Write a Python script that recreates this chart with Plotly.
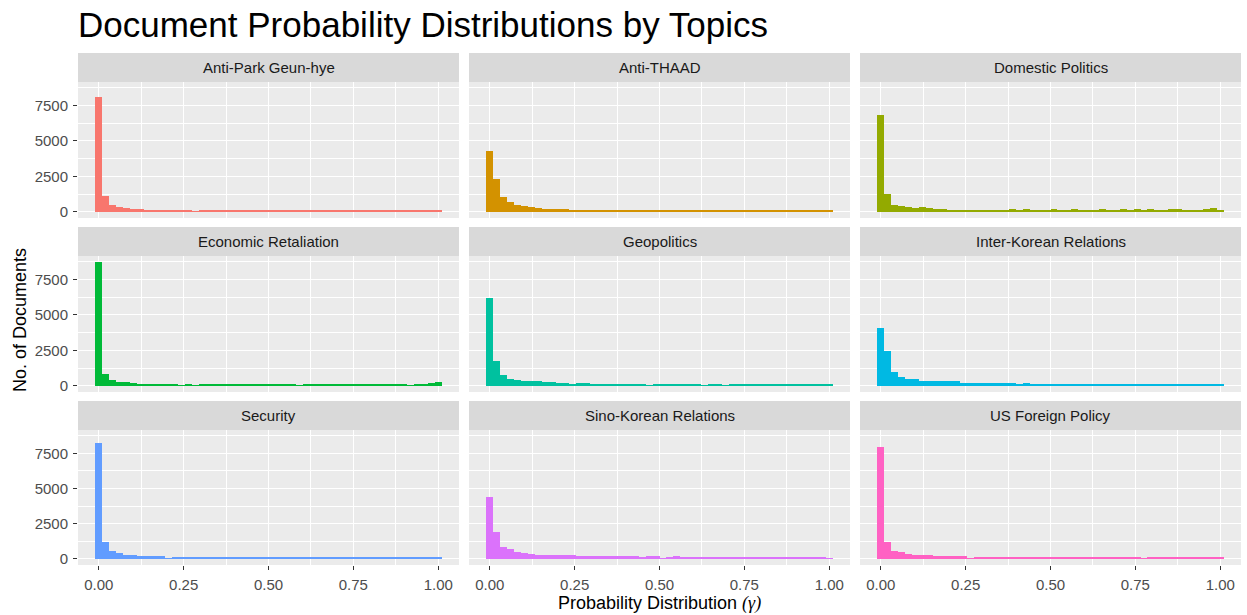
import plotly.graph_objects as go

# facet labels and ggplot hue colours
topics = [
    "Anti-Park Geun-hye", "Anti-THAAD", "Domestic Politics",
    "Economic Retaliation", "Geopolitics", "Inter-Korean Relations",
    "Security", "Sino-Korean Relations", "US Foreign Policy",
]
colors = ["#F8766D", "#D39200", "#93AA00", "#00BA38", "#00C19F",
          "#00B9E3", "#619CFF", "#DB72FB", "#FF61C3"]

# document counts per gamma bin (50 bins, 0 -> 1)
anti_park = [8120, 1100, 515, 330, 235, 230, 165, 160, 160, 155,
             150, 150, 145, 140, 40, 160, 85, 84, 83, 82,
             82, 81, 80, 80, 80, 79, 79, 78, 78, 78,
             77, 77, 77, 76, 76, 76, 75, 75, 75, 75,
             74, 74, 74, 74, 73, 73, 73, 72, 72, 70]
anti_thaad = [4320, 2280, 1035, 725, 515, 445, 325, 235, 230, 225,
              220, 165, 160, 155, 155, 150, 145, 75, 140, 135,
              135, 130, 130, 125, 125, 125, 130, 115, 130, 85,
              155, 85, 85, 84, 84, 83, 83, 82, 82, 82,
              81, 81, 80, 80, 80, 80, 80, 80, 155, 70]
domestic = [6800, 1225, 515, 395, 305, 235, 305, 235, 225, 165,
            160, 155, 155, 150, 145, 145, 145, 90, 90, 165,
            90, 165, 90, 90, 90, 165, 90, 90, 165, 90,
            90, 90, 165, 90, 90, 165, 90, 165, 90, 165,
            160, 90, 165, 165, 90, 160, 160, 165, 240, 90]
economic = [8720, 850, 445, 285, 285, 215, 145, 145, 120, 120,
            115, 115, 50, 120, 50, 120, 95, 95, 95, 95,
            95, 95, 95, 95, 145, 95, 95, 95, 120, 50,
            120, 95, 95, 95, 120, 95, 95, 95, 120, 95,
            95, 95, 120, 120, 120, 50, 120, 145, 215, 285]
geopolitics = [6225, 1785, 730, 515, 425, 375, 365, 305, 295, 235,
               225, 225, 145, 225, 220, 145, 145, 140, 140, 120,
               120, 115, 115, 50, 115, 115, 110, 110, 110, 110,
               110, 50, 115, 115, 50, 115, 115, 75, 75, 75,
               75, 75, 75, 75, 75, 75, 75, 75, 75, 75]
inter_korean = [4090, 2425, 940, 635, 495, 495, 375, 370, 370, 310,
                305, 305, 190, 190, 190, 190, 190, 190, 185, 185,
                95, 190, 120, 120, 120, 120, 95, 95, 95, 95,
                95, 95, 95, 95, 95, 72, 72, 72, 72, 72,
                72, 72, 72, 72, 72, 72, 72, 72, 72, 72]
security = [8215, 1165, 525, 385, 270, 265, 175, 175, 170, 170,
            35, 82, 82, 82, 82, 82, 82, 82, 82, 82,
            82, 82, 82, 82, 82, 82, 82, 82, 82, 82,
            82, 82, 82, 82, 82, 82, 82, 82, 82, 82,
            82, 82, 82, 82, 82, 82, 82, 82, 82, 82]
sino_korean = [4405, 1935, 835, 670, 460, 385, 315, 310, 245, 245,
               240, 240, 240, 175, 175, 175, 175, 175, 175, 175,
               175, 175, 130, 175, 175, 50, 130, 175, 80, 80,
               130, 130, 130, 130, 130, 130, 130, 130, 130, 130,
               130, 130, 130, 130, 130, 130, 130, 130, 130, 50]
us_foreign = [7935, 1210, 575, 460, 315, 245, 245, 240, 175, 175,
              170, 170, 170, 50, 105, 105, 105, 105, 105, 105,
              105, 105, 105, 105, 105, 105, 105, 105, 105, 105,
              105, 105, 105, 105, 105, 105, 105, 105, 50, 130,
              130, 130, 80, 80, 80, 80, 80, 80, 80, 80]

counts = [anti_park, anti_thaad, domestic, economic, geopolitics,
          inter_korean, security, sino_korean, us_foreign]

x_ticks = [0, 0.25, 0.5, 0.75, 1]
x_labels = ["0.00", "0.25", "0.50", "0.75", "1.00"]
y_ticks = [0, 2500, 5000, 7500]
y_labels = ["0", "2500", "5000", "7500"]

n_bins = 50
bin_width = 1 / (n_bins - 1)
bin_centers = [i * bin_width for i in range(n_bins)]

W, H = 1247, 615
FONT = "Liberation Sans, Arial, sans-serif"
cols = [(78, 459), (469, 850), (860, 1241)]
rows = [(53, 82, 218), (227, 256, 392), (401, 430, 565)]  # strip top, panel top, panel bottom

fig = go.Figure()
shapes, annotations = [], []
layout = {}

for i, (topic, vals, col) in enumerate(zip(topics, counts, colors)):
    r, c = divmod(i, 3)
    x0, x1 = cols[c]
    st, pt, pb = rows[r]
    n = i + 1
    xa = "xaxis" if n == 1 else f"xaxis{n}"
    ya = "yaxis" if n == 1 else f"yaxis{n}"

    fig.add_trace(go.Bar(
        x=bin_centers, y=vals, width=bin_width,
        marker=dict(color=col, line=dict(width=0)),
        xaxis=f"x{n}", yaxis=f"y{n}", showlegend=False,
        name=topic,
    ))

    bottom = r == 2
    left = c == 0
    layout[xa] = dict(
        domain=[x0 / W, x1 / W], anchor=f"y{n}",
        range=[-0.0612, 1.0612], tickvals=x_ticks, ticktext=x_labels,
        showticklabels=bottom, ticks="outside" if bottom else "",
        ticklen=4, tickwidth=1, tickcolor="#333333", ticklabelstandoff=2,
        tickfont=dict(size=15, color="#4D4D4D", family=FONT),
        showgrid=True, gridcolor="white", gridwidth=1.1, zeroline=False,
        minor=dict(tickvals=[0.125, 0.375, 0.625, 0.875], showgrid=True,
                   gridcolor="white", gridwidth=0.5),
        showline=False, automargin=False,
    )
    layout[ya] = dict(
        domain=[1 - pb / H, 1 - pt / H], anchor=f"x{n}",
        range=[-436, 9156], tickvals=y_ticks, ticktext=y_labels,
        showticklabels=left, ticks="outside" if left else "",
        ticklen=4, tickwidth=1, tickcolor="#333333", ticklabelstandoff=2,
        tickfont=dict(size=15, color="#4D4D4D", family=FONT),
        showgrid=True, gridcolor="white", gridwidth=1.1, zeroline=False,
        minor=dict(tickvals=[1250, 3750, 6250, 8750], showgrid=True,
                   gridcolor="white", gridwidth=0.5),
        showline=False, automargin=False,
    )

    # facet strip
    shapes.append(dict(type="rect", xref="paper", yref="paper",
                       x0=x0 / W, x1=x1 / W, y0=1 - pt / H, y1=1 - st / H,
                       fillcolor="#D9D9D9", line=dict(width=0)))
    annotations.append(dict(text=topic, xref="paper", yref="paper",
                            x=(x0 + x1) / 2 / W, y=1 - (st + pt) / 2 / H,
                            xanchor="center", yanchor="middle", showarrow=False,
                            font=dict(size=15, color="#1A1A1A", family=FONT)))

annotations.append(dict(text="No. of Documents", xref="paper", yref="paper",
                        x=20 / W, y=1 - 320 / H, textangle=-90,
                        xanchor="center", yanchor="middle", showarrow=False,
                        font=dict(size=18, color="black", family=FONT)))
annotations.append(dict(
    text="Probability Distribution <span style=\"font-family:'Liberation Serif', serif\"><i>(γ)</i></span>",
    xref="paper", yref="paper", x=659.5 / W, y=1 - 603 / H,
    xanchor="center", yanchor="middle", showarrow=False,
    font=dict(size=18, color="black", family=FONT)))

fig.update_layout(
    **layout,
    width=W, height=H,
    margin=dict(l=0, r=0, t=0, b=0),
    paper_bgcolor="white", plot_bgcolor="#EBEBEB",
    bargap=0,
    font=dict(family=FONT),
    title=dict(text="Document Probability Distributions by Topics",
               x=78 / W, xanchor="left", y=1 - 25 / H, yanchor="middle",
               font=dict(size=35, color="black", family=FONT)),
    shapes=shapes, annotations=annotations,
)

# the page's default 8px body margin would push the fixed-size figure off the window
fig.write_html("out.html", config={"displayModeBar": False},
               post_script="document.body.style.margin='0';")
